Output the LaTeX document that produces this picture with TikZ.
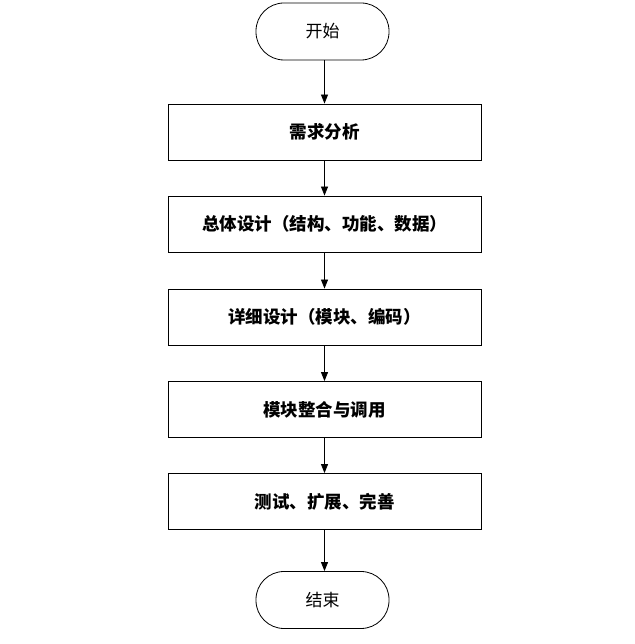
\documentclass[tikz,border=0pt]{standalone}
\usepackage{fontspec}
\setmainfont{Noto Sans CJK SC}
\usetikzlibrary{positioning,arrows.meta}

\begin{document}
\begin{tikzpicture}[x=1pt,y=1pt,>={Triangle[length=9pt,width=7pt]},
  terminal/.style={draw,line width=0.8pt,rounded corners=28pt,minimum width=133pt,minimum height=57pt,font=\fontsize{17}{17}\selectfont},
  stepbox/.style={draw,line width=0.8pt,minimum width=313pt,minimum height=56pt,font=\fontsize{17.5}{17.5}\selectfont\bfseries}]
  \useasboundingbox (0,0) rectangle (634,644);
  \node[terminal] (start) at (322.5,612.5) {开始};
  \node[stepbox] (req) at (324.5,512) {需求分析};
  \node[stepbox] (overall) at (324.5,420) {总体设计（结构、功能、数据）};
  \node[stepbox] (detail) at (324.5,327) {详细设计（模块、编码）};
  \node[stepbox] (merge) at (324.5,234.5) {模块整合与调用};
  \node[stepbox] (test) at (324.5,142.5) {测试、扩展、完善};
  \node[terminal] (stop) at (322.5,44) {结束};
  \foreach \a/\b in {start/req,req/overall,overall/detail,detail/merge,merge/test}
    \draw[->,line width=0.8pt] (\a.south -| req.center) -- (\b.north);
  \draw[->,line width=0.8pt] (test.south) -- (stop.north -| test.center);
\end{tikzpicture}
\end{document}
